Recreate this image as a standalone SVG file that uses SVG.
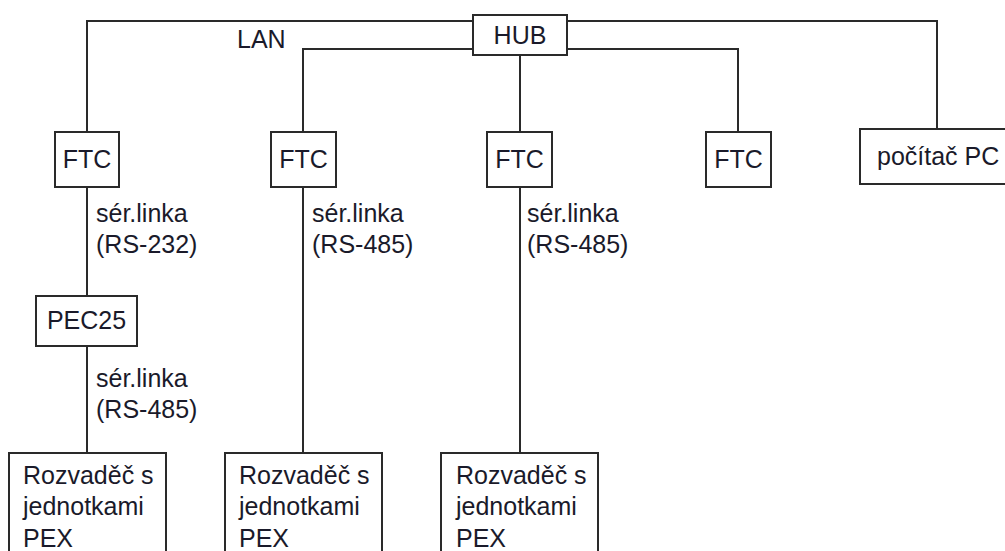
<svg xmlns="http://www.w3.org/2000/svg" width="1005" height="551" viewBox="0 0 1005 551">
<style>
.n{fill:#fff;stroke:#2a2a2a;stroke-width:2}
.c{fill:none;stroke:#2a2a2a;stroke-width:2}
text{font-family:"Liberation Sans",Arial,sans-serif;font-size:25px;fill:#1a1a2a}
.m{text-anchor:middle}
</style>
<rect width="1005" height="551" fill="#fff"/>
<g id="connectors">
<path class="c" d="M473 21H87V132M567 21H937V129M473 49H303V132M567 49H738V132M520 55V132M87 187V296M87 346V453M303 187V453M520 187V453"/>
</g>
<g id="hub"><rect class="n" x="473" y="15" width="94" height="40"/><text class="m" x="520" y="44">HUB</text></g>
<text x="237" y="48">LAN</text>
<g id="ftc1"><rect class="n" x="55" y="132" width="64" height="55"/><text class="m" x="87" y="168">FTC</text></g>
<g id="ftc2"><rect class="n" x="271" y="132" width="65" height="55"/><text class="m" x="303.5" y="168">FTC</text></g>
<g id="ftc3"><rect class="n" x="487" y="132" width="65" height="55"/><text class="m" x="519.5" y="168">FTC</text></g>
<g id="ftc4"><rect class="n" x="706" y="132" width="65" height="55"/><text class="m" x="738.5" y="168">FTC</text></g>
<g id="pc"><rect class="n" x="860" y="129" width="150" height="55"/><text x="877" y="165">počítač PC</text></g>
<g id="pec25"><rect class="n" x="36" y="296" width="101" height="50"/><text class="m" x="86.5" y="329">PEC25</text></g>
<g id="labels">
<text x="96" y="222">sér.linka</text><text x="96" y="253">(RS-232)</text>
<text x="312" y="222">sér.linka</text><text x="312" y="253">(RS-485)</text>
<text x="527" y="222">sér.linka</text><text x="527" y="253">(RS-485)</text>
<text x="96" y="387">sér.linka</text><text x="96" y="418">(RS-485)</text>
</g>
<g id="rozv1"><rect class="n" x="9" y="453" width="157" height="110"/><text x="23" y="484">Rozvaděč s</text><text x="23" y="515">jednotkami</text><text x="23" y="547">PEX</text></g>
<g id="rozv2"><rect class="n" x="225" y="453" width="157" height="110"/><text x="239" y="484">Rozvaděč s</text><text x="239" y="515">jednotkami</text><text x="239" y="547">PEX</text></g>
<g id="rozv3"><rect class="n" x="441" y="453" width="157" height="110"/><text x="456" y="484">Rozvaděč s</text><text x="456" y="515">jednotkami</text><text x="456" y="547">PEX</text></g>
</svg>
